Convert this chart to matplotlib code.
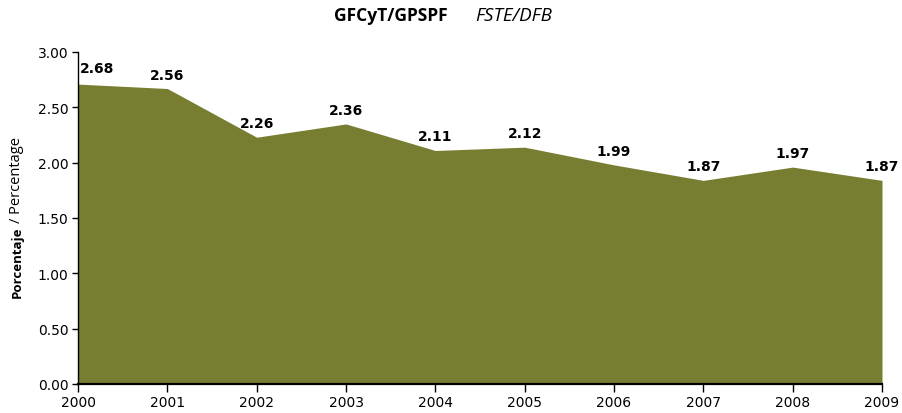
import matplotlib
matplotlib.use("Agg")
import matplotlib.pyplot as plt
import numpy as np

years = ["2000", "2001", "2002", "2003", "2004", "2005", "2006", "2007", "2008", "2009"]
area_values = [2.71, 2.67, 2.23, 2.35, 2.11, 2.14, 1.98, 1.84, 1.96, 1.84]
value_labels = ["2.68", "2.56", "2.26", "2.36", "2.11", "2.12", "1.99", "1.87", "1.97", "1.87"]
y_ticks = [0.0, 0.5, 1.0, 1.5, 2.0, 2.5, 3.0]
title_main = "GFCyT/GPSPF"
title_sub = "FSTE/DFB"

fill_color = "#787e31"

fig = plt.figure(figsize=(9.02, 4.14), dpi=100)
ax = fig.add_axes([78 / 902, 1 - 385 / 414, (882 - 78) / 902, (385 - 53) / 414])

x = np.arange(len(years))
ax.fill_between(x, 0, area_values, color=fill_color, linewidth=0)

ax.set_xlim(x[0], x[-1])
ax.set_ylim(0, 3.0)
ax.set_xticks(x)
ax.set_xticklabels(years, fontsize=10, family="DejaVu Sans")
ax.set_yticks(y_ticks)
ax.set_yticklabels([f"{v:.2f}" for v in y_ticks], fontsize=10, family="DejaVu Sans")
ax.tick_params(axis="x", length=6, width=1, pad=2)
ax.tick_params(axis="y", length=4, width=1, pad=3)
for s in ["top", "right"]:
    ax.spines[s].set_visible(False)
ax.spines["left"].set_linewidth(1.0)
ax.spines["bottom"].set_linewidth(1.6)

for i, (v, lab) in enumerate(zip(area_values, value_labels)):
    ha = "left" if i == 0 else "center"
    dx = 2 if i == 0 else 0
    ax.annotate(lab, (x[i], v), xytext=(dx, 16 if i == 0 else 14), textcoords="offset pixels",
                ha=ha, va="center", fontsize=10, fontweight="bold",
                family="DejaVu Sans", annotation_clip=False)

fig.text(448 / 902, 1 - 16 / 414, title_main, ha="right", va="center",
         fontsize=12.5, fontweight="bold", family="Open Sans")
fig.text(475 / 902, 1 - 16 / 414, title_sub, ha="left", va="center",
         fontsize=13.5, style="italic", family="Open Sans")

t1 = fig.text(17 / 902, 1 - 298 / 414, "Porcentaje", rotation=90, ha="center", va="bottom",
              fontsize=9.5, fontweight="bold", family="Open Sans")
fig.canvas.draw()
bb = t1.get_window_extent(renderer=fig.canvas.get_renderer())
top_px = bb.y1
fig.text(17 / 902, (top_px + 3) / 414, "/ Percentage", rotation=90, ha="center", va="bottom",
         fontsize=10.5, family="Open Sans")

fig.savefig("out.png", dpi=100)
